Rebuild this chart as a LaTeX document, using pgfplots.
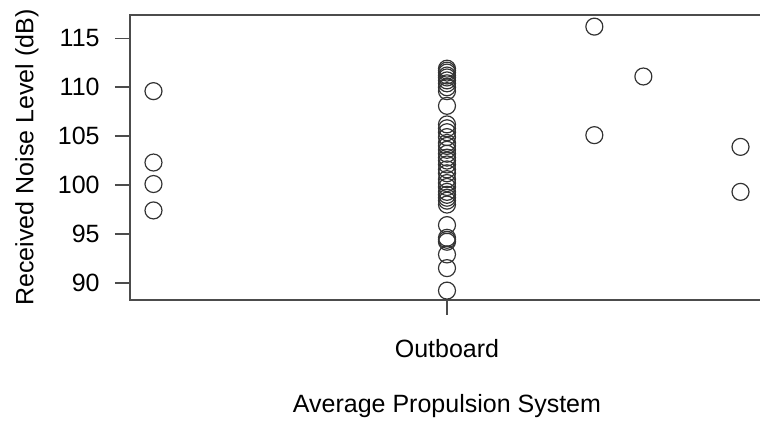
\documentclass[border=0pt]{standalone}
\usepackage{fontspec}
\setmainfont{Liberation Sans}
\usepackage{pgfplots}
\pgfplotsset{compat=1.18}
\begin{document}
\begin{tikzpicture}[font=\fontsize{12.5}{15}\selectfont]
\useasboundingbox (-65pt,-63pt) rectangle (315pt,150pt);
\clip (-65pt,-63pt) rectangle (315pt,150pt);
\begin{axis}[
 scale only axis, width=317pt, height=142.5pt,
 xmin=-0.08, xmax=2.08, ymin=88.24, ymax=117.39,
 axis line style={black!70, line width=0.8pt},
 tick style={black!70, line width=0.8pt},
 tick align=outside, major tick length=7.5pt,
 xtick={1}, xticklabels={Outboard},
 ytick={90,95,...,115},
 xtick pos=bottom, ytick pos=left,
 /pgf/number format/assume math mode=true,
 yticklabel style={anchor=east, inner sep=0pt, xshift=-7.5pt},
 xticklabel style={anchor=base, inner sep=0pt, yshift=-21.5pt},
 every axis y label/.style={at={(axis description cs:-0.1625,0.5)}, rotate=90, anchor=center},
 every axis x label/.style={at={(axis description cs:0.5,-0.372)}, anchor=center},
 xlabel={Average Propulsion System}, ylabel={Received Noise Level (dB)},
]
\addplot[only marks, mark=o, mark size=4.25pt, mark options={line width=0.6pt, draw=black!80}] coordinates {
(0,109.6) (0,102.3) (0,100.1) (0,97.4)
(1,111.9) (1,111.7) (1,111.5) (1,111.2) (1,111.0) (1,110.7) (1,110.4) (1,110.0) (1,109.6)
(1,108.1)
(1,106.2) (1,105.8) (1,105.4) (1,104.9) (1,104.3) (1,104.0) (1,103.6) (1,103.2) (1,102.8)
(1,102.5) (1,102.1) (1,101.6) (1,101.2) (1,100.6) (1,100.2) (1,99.8) (1,99.3) (1,99.0)
(1,98.7) (1,98.4) (1,98.0)
(1,95.9) (1,94.6) (1,94.4) (1,94.2) (1,92.9) (1,91.5) (1,89.2)
(1.502,116.2) (1.502,105.1)
(1.669,111.1)
(2,103.9) (2,99.3)
};
\end{axis}
\end{tikzpicture}
\end{document}
